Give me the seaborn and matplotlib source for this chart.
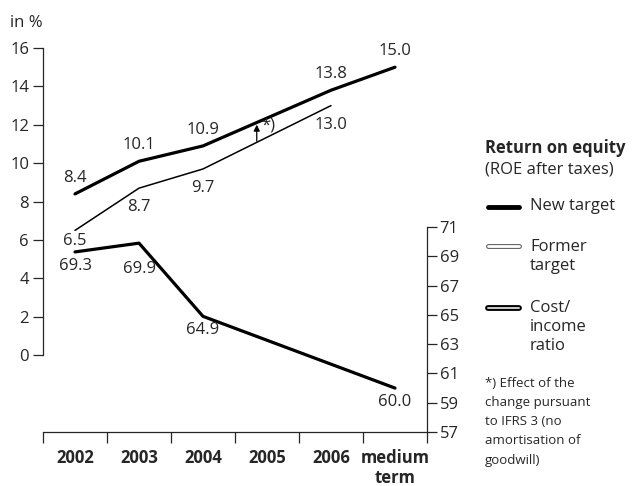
import matplotlib.pyplot as plt
import seaborn as sns
import numpy as np
from matplotlib.lines import Line2D
import matplotlib.patheffects as pe

# categories and values
years = ["2002", "2003", "2004", "2005", "2006", "medium\nterm"]
new_years = ["2002", "2003", "2004", "2006", "medium\nterm"]
new_roe = [8.4, 10.1, 10.9, 13.8, 15.0]
former_years = ["2002", "2003", "2004", "2006"]
former_roe = [6.5, 8.7, 9.7, 13.0]
ci_years = ["2002", "2003", "2004", "medium\nterm"]
cost_income = [69.3, 69.9, 64.9, 60.0]

sns.set_style("ticks")
plt.rcParams["font.family"] = ["Open Sans", "DejaVu Sans"]
plt.rcParams["font.size"] = 12

W, H = 636, 486
fig = plt.figure(figsize=(W / 100, H / 100), dpi=100)
ax = fig.add_axes([43 / W, 1 - 432 / H, 384 / W, 384 / H])
ax2 = ax.twinx()


def fx(x):
    return x / W


def fy(y):
    return 1 - y / H


def pos(labels):
    return [years.index(l) for l in labels]


sns.lineplot(x=pos(new_years), y=new_roe, ax=ax, color="black", linewidth=2.3)
sns.lineplot(x=pos(former_years), y=former_roe, ax=ax, color="black", linewidth=1.1)
sns.lineplot(x=pos(ci_years), y=cost_income, ax=ax2, color="black", linewidth=2.3)

ax.set_xlim(-0.5, 5.5)
ax.set_ylim(-4, 16)
ax2.set_ylim(57, 57 + 384 / 14.64)

# data labels
for x, v in zip(pos(new_years), new_roe):
    ax.annotate(f"{v:.1f}", (x, v), xytext=(0, 16), textcoords="offset pixels",
                ha="center", va="center", fontsize=12)
for x, v in zip(pos(former_years), former_roe):
    dy = -11 if x == 0 else -19
    ax.annotate(f"{v:.1f}", (x, v), xytext=(0, dy), textcoords="offset pixels",
                ha="center", va="center", fontsize=12)
for x, v in zip(pos(ci_years), cost_income):
    dy = -26 if x == 1 else -14
    ax2.annotate(f"{v:.1f}", (x, v), xytext=(0, dy), textcoords="offset pixels",
                 ha="center", va="center", fontsize=12)

# IFRS 3 effect arrow
ax.annotate("", xy=(2.84, 12.15), xytext=(2.84, 11.0),
            arrowprops=dict(arrowstyle="-|>", color="black", lw=0.9, mutation_scale=9))
ax.text(2.91, 11.95, "*)", fontsize=12, ha="left", va="center")

# axes styling
for s in ["top", "right"]:
    ax.spines[s].set_visible(False)
for s in ["top", "left", "bottom"]:
    ax2.spines[s].set_visible(False)
ax.spines["left"].set_bounds(0, 16)
ax2.spines["right"].set_bounds(57, 71)
for a in (ax, ax2):
    for s in a.spines.values():
        s.set_linewidth(0.9)

ax.set_yticks(np.arange(0, 17, 2))
ax.tick_params(axis="y", length=7, width=0.9, pad=3, labelsize=12)
ax2.set_yticks(np.arange(57, 72, 2))
ax2.tick_params(axis="y", length=7, width=0.9, pad=2, labelsize=12)

ax.set_xticks(np.arange(-0.5, 6, 1))
ax.set_xticklabels([])
ax.set_xticks(range(len(years)), minor=True)
ax.set_xticklabels(years, minor=True, fontweight="bold", fontsize=12)
ax.tick_params(axis="x", which="major", length=8, width=0.9)
ax.tick_params(axis="x", which="minor", length=0, pad=12)

fig.text(fx(10), fy(23), "in %", fontsize=12, va="center")

# legend
lx = 485
fig.text(fx(lx), fy(148), "Return on equity", fontsize=12, fontweight="bold", va="center")
fig.text(fx(lx), fy(169), "(ROE after taxes)", fontsize=12, va="center")

fig.add_artist(Line2D([fx(488), fx(519)], [fy(207), fy(207)], color="black", lw=3.5,
                      solid_capstyle="round"))
fig.add_artist(Line2D([fx(488), fx(519)], [fy(246), fy(246)], color="white", lw=2,
                      solid_capstyle="round",
                      path_effects=[pe.Stroke(linewidth=3.6, foreground="#666666"), pe.Normal()]))
fig.add_artist(Line2D([fx(488), fx(519)], [fy(308), fy(308)], color="#cccccc", lw=1.4,
                      solid_capstyle="round",
                      path_effects=[pe.Stroke(linewidth=4.2, foreground="black"), pe.Normal()]))

tx = 530
fig.text(fx(tx), fy(206), "New target", fontsize=12, va="center")
for i, t in enumerate(["Former", "target"]):
    fig.text(fx(tx), fy(247 + 19 * i), t, fontsize=12, va="center")
for i, t in enumerate(["Cost/", "income", "ratio"]):
    fig.text(fx(tx), fy(308 + 19 * i), t, fontsize=12, va="center")

note = ["*) Effect of the", "change pursuant", "to IFRS 3 (no", "amortisation of", "goodwill)"]
for i, t in enumerate(note):
    fig.text(fx(lx), fy(383 + 19.3 * i), t, fontsize=9.5, va="center")

fig.savefig("out.png", dpi=100)
